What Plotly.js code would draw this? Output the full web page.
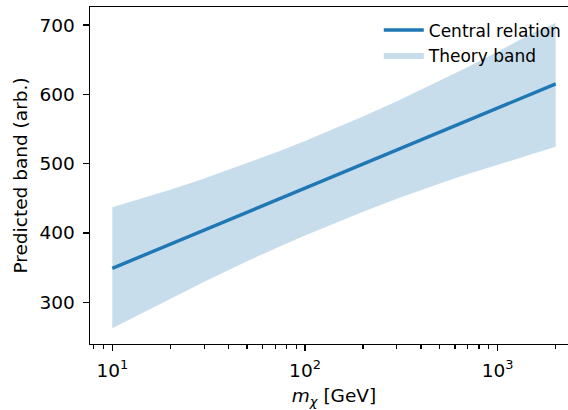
<!DOCTYPE html>
<html>
<head>
<meta charset="utf-8">
<script src="https://cdn.plot.ly/plotly-3.0.1.min.js"></script>
<style>
  html, body { margin: 0; padding: 0; overflow: hidden; background: #fff; }
  #chart { width: 580px; height: 410px; }
</style>
</head>
<body>
<div id="chart"></div>
<script>
// Mass values (GeV)
const massGeV = [10, 15, 20, 30, 50, 70, 100, 150, 200, 300, 500, 700, 1000, 1500, 2000];
// Central relation (arb.)
const centralVals = [349, 369.3, 383.8, 404.1, 429.8, 446.7, 464.6, 485.0, 499.4, 519.7, 545.4, 562.3, 580.2, 600.5, 615.0];
// Theory band edges (arb.)
const bandUpper = [437, 451.4, 462.3, 478.5, 500.5, 515.8, 532.8, 553.1, 568.1, 590, 619.3, 639.5, 661.6, 687.6, 703];
const bandLower = [262.5, 287.2, 305.3, 329.7, 359.1, 377.6, 396.4, 416.9, 430.7, 449.4, 471.5, 485.1, 498.8, 513.4, 524.5];

const majorTicks = [10, 100, 1000];
const majorTickText = ['10<sup>1</sup>', '10<sup>2</sup>', '10<sup>3</sup>'];
const minorTicks = [8, 9, 20, 30, 40, 50, 60, 70, 80, 90, 200, 300, 400, 500, 600, 700, 800, 900, 2000];
const yTicks = [300, 400, 500, 600, 700];

const C0 = '#1f77b4';

const bandX = massGeV.concat(massGeV.slice().reverse());
const bandY = bandUpper.concat(bandLower.slice().reverse());

const traces = [
  {
    x: bandX, y: bandY,
    type: 'scatter', mode: 'lines',
    fill: 'toself', fillcolor: 'rgba(31,119,180,0.25)',
    line: { width: 0, color: 'rgba(31,119,180,0)' },
    name: 'Theory band', legendrank: 2, hoverinfo: 'skip'
  },
  {
    x: massGeV, y: centralVals,
    type: 'scatter', mode: 'lines',
    line: { color: C0, width: 3.4 },
    name: 'Central relation', legendrank: 1
  }
];

const font = { family: 'DejaVu Sans, sans-serif', size: 18.5, color: '#000' };
const legendFont = { family: 'DejaVu Sans, sans-serif', size: 17, color: '#000' };

const layout = {
  width: 580, height: 410,
  margin: { l: 90, r: 2, t: 7, b: 66 },
  paper_bgcolor: '#fff', plot_bgcolor: '#fff',
  font: font,
  showlegend: true,
  legend: {
    x: 0.977, xanchor: 'right', y: 0.984, yanchor: 'top',
    bgcolor: 'rgba(0,0,0,0)', borderwidth: 0,
    font: legendFont,
    itemwidth: 40,
    tracegroupgap: 0
  },
  xaxis: {
    type: 'log',
    range: [0.8843, 3.4167],
    tickmode: 'array', tickvals: majorTicks, ticktext: majorTickText,
    ticks: 'outside', ticklen: 6, tickwidth: 1.4, tickcolor: '#000',
    ticklabelstandoff: 3,
    showline: true, mirror: true, linecolor: '#000', linewidth: 1.4,
    showgrid: false, zeroline: false,
    minor: { tickmode: 'array', tickvals: minorTicks, ticks: 'outside', ticklen: 3.5, tickwidth: 1.1, tickcolor: '#000', showgrid: false },
    tickfont: font,
    title: { text: '<i>m</i><sub><i>χ</i></sub> [GeV]', font: font, standoff: 9 }
  },
  yaxis: {
    range: [239.8, 726],
    tickmode: 'array', tickvals: yTicks,
    ticks: 'outside', ticklen: 6, tickwidth: 1.4, tickcolor: '#000',
    ticklabelstandoff: 4,
    showline: true, mirror: true, linecolor: '#000', linewidth: 1.4,
    showgrid: false, zeroline: false,
    tickfont: font,
    title: { text: 'Predicted band (arb.)', font: font, standoff: 7 }
  }
};

Plotly.newPlot('chart', traces, layout, { displayModeBar: false, staticPlot: true });
</script>
</body>
</html>
